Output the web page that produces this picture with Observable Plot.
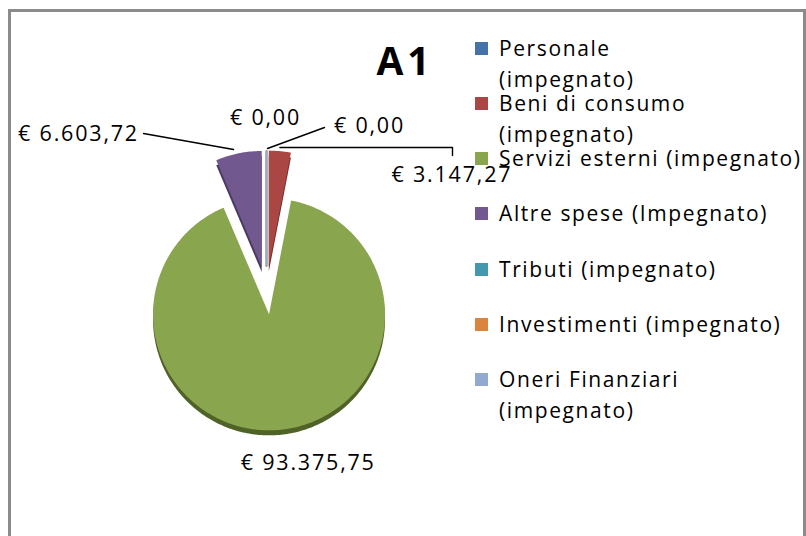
<!DOCTYPE html>
<html><head><meta charset="utf-8">
<script src="https://cdn.jsdelivr.net/npm/d3@7"></script>
<script src="https://cdn.jsdelivr.net/npm/@observablehq/plot@0.6"></script>
<style>
html,body{margin:0;padding:0;background:#fff;overflow:hidden;}
#wrap{position:relative;width:806px;height:536px;overflow:hidden;font-family:"Open Sans",sans-serif;color:#000;}
#wrap svg{position:absolute;left:0;top:0;}
#wrap svg text{letter-spacing:1.8px;}
#frame{position:absolute;left:8px;top:9px;width:798px;height:600px;box-sizing:border-box;border:3px solid #8b8b8b;}
#title{position:absolute;left:405px;top:59px;transform:translate(-50%,-50%);font-size:39px;font-weight:bold;letter-spacing:4px;line-height:1;}
#legend{position:absolute;left:475px;top:32.5px;}
.item{display:flex;align-items:flex-start;height:55.33px;}
.sw{width:13px;height:13px;margin-top:9px;margin-right:11px;flex:none;}
.lab{font-size:21px;line-height:31px;letter-spacing:1.6px;white-space:nowrap;}
</style></head><body><div id="wrap"><div id="frame"></div></div>
<script>
// ---- data ----
const title = "A1";
const categories = ["Personale (impegnato)", "Beni di consumo (impegnato)", "Servizi esterni (impegnato)", "Altre spese (Impegnato)", "Tributi (impegnato)", "Investimenti (impegnato)", "Oneri Finanziari (impegnato)"];
const values = [0, 3147.27, 93375.75, 6603.72, 0, 0, 0];
const legendLines = [["Personale", "(impegnato)"], ["Beni di consumo", "(impegnato)"], ["Servizi esterni (impegnato)"], ["Altre spese (Impegnato)"], ["Tributi (impegnato)"], ["Investimenti (impegnato)"], ["Oneri Finanziari", "(impegnato)"]];
const colors = ["#4572A7", "#AA4643", "#89A54E", "#71588F", "#4198AF", "#DB843D", "#93A9CF"];
const sideColors = ["#2c4a70", "#742d2b", "#4f6228", "#4b3a60", "#2b6677", "#93582a", "#66789a"];
// which slices show a value label
const labeled = [0, 1, 2, 3, 6];

// ---- layout ----
const W = 806, H = 536, CX = 266, CY = 290, R = 116, EXPLODE = 24, DEPTH = 5;
const e = EXPLODE / R;
const labelLayout = {
  0: {dx: -1, dy: -32, leader: null},
  6: {dx: 103, dy: -24, leader: [[1, -2], [58, -23]]},
  1: {dx: 172, dy: 24, leader: [[0, -3.6], [172.6, -3.6], [172.6, 4.4]]},
  3: {dx: -160, dy: -19, leader: [[-5, -3.8], [-95, -19.8]]},
  2: {dx: 27, dy: 33, leader: null}
};

const locale = d3.formatLocale({decimal: ",", thousands: ".", grouping: [3], currency: ["€ ", ""]});
const fmt = locale.format("$,.2f");

const arcs = d3.pie().sort(null).value(d => d)(values);
const slices = arcs.map((a, i) => {
  const mid = (a.startAngle + a.endAngle) / 2;
  const ox = e * Math.sin(mid), oy = e * Math.cos(mid);
  return {i, name: categories[i], value: values[i], a0: a.startAngle, a1: a.endAngle, mid, ox, oy,
    ax: ox + Math.sin(mid), ay: oy + Math.cos(mid), color: colors[i], side: sideColors[i]};
});

const poly = [];
for (const s of slices) {
  if (s.value <= 0) continue;
  const n = Math.max(2, Math.ceil((s.a1 - s.a0) / (Math.PI / 180)));
  poly.push({name: s.name, x: s.ox, y: s.oy, color: s.color, side: s.side});
  for (let k = 0; k <= n; k++) {
    const t = s.a0 + (s.a1 - s.a0) * k / n;
    poly.push({name: s.name, x: s.ox + Math.sin(t), y: s.oy + Math.cos(t), color: s.color, side: s.side});
  }
  poly.push({name: s.name, x: s.ox, y: s.oy, color: s.color, side: s.side});
}
const zeros = slices.filter(s => s.value <= 0);

const labels = [], leaders = [];
for (const i of labeled) {
  const s = slices[i], L = labelLayout[i];
  labels.push({x: s.ax + L.dx / R, y: s.ay - L.dy / R, text: fmt(s.value)});
  if (L.leader) L.leader.forEach(([px, py]) => leaders.push({id: i, x: s.ax + px / R, y: s.ay - py / R}));
}

const chart = Plot.plot({
  width: W, height: H, margin: 0,
  x: {domain: [-1, 1], range: [CX - R, CX + R], axis: null},
  y: {domain: [-1, 1], range: [CY + R, CY - R], axis: null},
  color: {type: "identity"},
  style: {background: "transparent", overflow: "visible"},
  marks: [
    Plot.line(poly, {x: "x", y: "y", z: "name", fill: "side", stroke: "none", dy: DEPTH, curve: "linear"}),
    Plot.line(poly, {x: "x", y: "y", z: "name", fill: "color", stroke: "none", curve: "linear"}),
    Plot.link(zeros, {x1: "ox", y1: "oy", x2: "ax", y2: "ay", stroke: "color", strokeWidth: 1.5}),
    Plot.line(leaders, {x: "x", y: "y", z: "id", stroke: "#000", strokeWidth: 1.4}),
    Plot.text(labels, {x: "x", y: "y", text: "text", fontSize: 21.5, fontFamily: "Open Sans", fill: "#000"})
  ]
});
const wrap = document.getElementById("wrap");
wrap.insertBefore(chart, wrap.firstChild);

const t = document.createElement("div");
t.id = "title"; t.textContent = title; wrap.appendChild(t);
const lg = document.createElement("div"); lg.id = "legend";
categories.forEach((c, i) => {
  const it = document.createElement("div"); it.className = "item";
  const sw = document.createElement("div"); sw.className = "sw"; sw.style.background = colors[i];
  const lab = document.createElement("div"); lab.className = "lab";
  legendLines[i].forEach((ln, k) => { if (k) lab.appendChild(document.createElement("br")); lab.appendChild(document.createTextNode(ln)); });
  it.appendChild(sw); it.appendChild(lab); lg.appendChild(it);
});
wrap.appendChild(lg);
</script></body></html>
